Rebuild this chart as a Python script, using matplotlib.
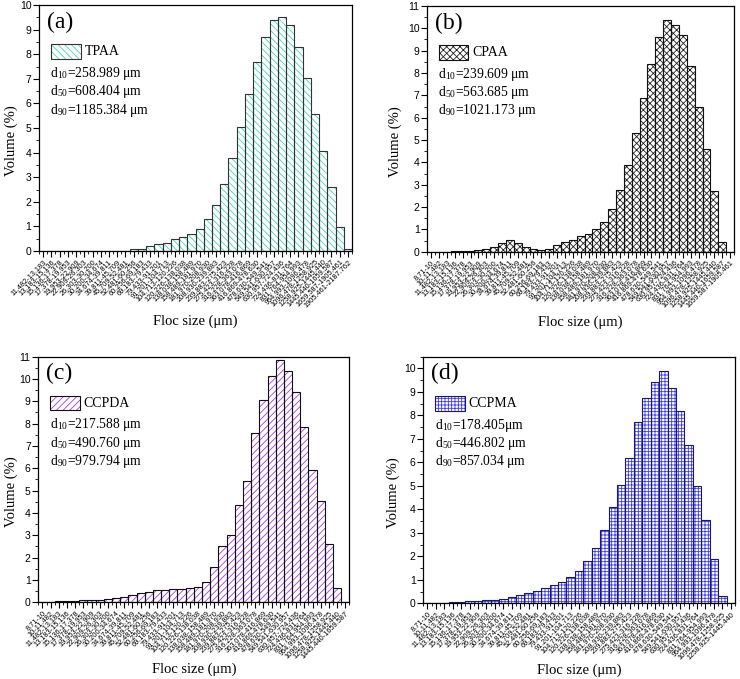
import matplotlib
matplotlib.use("Agg")
import matplotlib.pyplot as plt
from matplotlib.patches import Rectangle
from matplotlib.ticker import MultipleLocator, FixedLocator
import numpy as np

plt.rcParams['font.family'] = ['Liberation Serif', 'DejaVu Serif']
plt.rcParams['mathtext.fontset'] = 'stix'
plt.rcParams['hatch.linewidth'] = 0.6

# bin edges (um) of the size classes
edges = ["8.71", "10", "11.482", "13.183", "15.136", "17.378", "19.953", "22.909",
         "26.303", "30.200", "34.674", "39.811", "45.709", "52.481", "60.256",
         "69.183", "79.433", "91.201", "104.713", "120.226", "138.038", "158.489",
         "181.970", "208.930", "239.883", "275.423", "316.228", "363.078", "416.869",
         "478.630", "549.541", "630.957", "724.436", "831.764", "954.993", "1096.478",
         "1258.925", "1445.440", "1659.587", "1905.461", "2187.762"]

# volume (%) per class
tpaa = [0, 0, 0, 0, 0, 0, 0, 0, 0, 0, 0, 0.08, 0.10, 0.22, 0.27, 0.33, 0.47, 0.58,
        0.68, 0.89, 1.29, 1.87, 2.72, 3.78, 5.04, 6.39, 7.68, 8.70, 9.38, 9.53,
        9.17, 8.29, 7.03, 5.56, 4.06, 2.59, 0.96, 0.10]
cpaa = [0, 0, 0, 0.02, 0.03, 0.05, 0.08, 0.14, 0.22, 0.37, 0.53, 0.37, 0.22, 0.12,
        0.06, 0.13, 0.30, 0.45, 0.53, 0.70, 0.80, 1.02, 1.35, 1.92, 2.77, 3.90,
        5.33, 6.87, 8.40, 9.63, 10.37, 10.13, 9.68, 8.31, 6.50, 4.58, 2.70, 0.42, 0]
ccpda = [0, 0.03, 0.05, 0.06, 0.07, 0.08, 0.10, 0.10, 0.13, 0.18, 0.22, 0.32, 0.40,
         0.48, 0.53, 0.57, 0.58, 0.60, 0.63, 0.70, 0.90, 1.60, 2.50, 3.00, 4.35,
         5.42, 7.57, 9.05, 10.13, 10.83, 10.37, 9.40, 7.83, 5.93, 4.52, 2.60, 0.63, 0]
ccpma = [0, 0.01, 0.03, 0.04, 0.06, 0.08, 0.10, 0.12, 0.15, 0.20, 0.28, 0.37, 0.45,
         0.53, 0.65, 0.77, 0.90, 1.10, 1.38, 1.80, 2.37, 3.13, 4.10, 5.05, 6.18,
         7.70, 8.73, 9.42, 9.88, 9.17, 8.18, 6.72, 5.00, 3.53, 1.88, 0.30, 0]

# first edge index of each panel
start_edge = [2, 0, 0, 0]
names = ["TPAA", "CPAA", "CCPDA", "CCPMA"]
letters = ["(a)", "(b)", "(c)", "(d)"]
d10 = ["258.989 μm", "239.609 μm", "217.588 μm", "178.405μm"]
d50 = ["608.404 μm", "563.685 μm", "490.760 μm", "446.802 μm"]
d90 = ["1185.384 μm", "1021.173 μm", "979.794 μm", "857.034 μm"]
ymax = [10, 11, 11, 10.5]
ylab_x = [-0.066, -0.082, -0.064, -0.075]
xlab_y = [-0.26, -0.26, -0.245, -0.245]


def draw_panel(fig, rect, vals, i, hatch, hcolor, ecolor):
    ax = fig.add_axes(rect)
    n = len(vals)
    x = np.arange(n)
    s = start_edge[i]
    labels = [edges[s + k] + "-" + edges[s + k + 1] for k in range(n)]

    # hatch first, then black outline on top
    ax.bar(x, vals, width=1.0, color='white', edgecolor=hcolor, hatch=hatch, linewidth=0)
    ax.bar(x, vals, width=1.0, fill=False, edgecolor=ecolor, linewidth=0.8)

    ax.set_xlim(-0.5, n - 0.5)
    ax.set_ylim(0, ymax[i])
    ax.set_xticks(x)
    ax.set_xticklabels(labels, rotation=45, ha='right', rotation_mode='anchor',
                       fontsize=5.3, family='Liberation Sans')
    ax.xaxis.set_minor_locator(FixedLocator(np.arange(n + 1) - 0.5))
    ax.yaxis.set_major_locator(MultipleLocator(1))
    ax.yaxis.set_minor_locator(MultipleLocator(0.5))
    for lab in ax.get_yticklabels():
        lab.set_family('Liberation Sans')
        lab.set_fontsize(7.5)
    ax.tick_params(axis='both', which='major', direction='out', length=4, width=0.8, pad=1.5)
    ax.tick_params(axis='both', which='minor', direction='out', length=2.2, width=0.6)
    for sp in ax.spines.values():
        sp.set_linewidth(0.9)

    ax.set_ylabel("Volume (%)", fontsize=10.5)
    ax.set_xlabel("Floc size (μm)", fontsize=10.5, va='top')
    ax.yaxis.set_label_coords(ylab_x[i], 0.45)
    ax.xaxis.set_label_coords(0.5, xlab_y[i])

    # panel letter and legend-like block
    ax.text(0.024, 0.93, letters[i], transform=ax.transAxes, fontsize=17, va='center', ha='left')
    ax.add_patch(Rectangle((0.038, 0.781), 0.096, 0.06, transform=ax.transAxes,
                           facecolor='white', edgecolor=hcolor, hatch=hatch, linewidth=0))
    ax.add_patch(Rectangle((0.038, 0.781), 0.096, 0.06, transform=ax.transAxes,
                           fill=False, edgecolor=ecolor, linewidth=0.8))
    ax.text(0.146, 0.811, names[i], transform=ax.transAxes, fontsize=10, va='center', ha='left')
    ax.text(0.036, 0.708, r"d$_{\mathregular{10}}$=" + d10[i], transform=ax.transAxes,
            fontsize=9.8, va='baseline', ha='left')
    ax.text(0.036, 0.634, r"d$_{\mathregular{50}}$=" + d50[i], transform=ax.transAxes,
            fontsize=9.8, va='baseline', ha='left')
    ax.text(0.036, 0.559, r"d$_{\mathregular{90}}$=" + d90[i], transform=ax.transAxes,
            fontsize=9.8, va='baseline', ha='left')
    return ax


fig = plt.figure(figsize=(7.4, 6.79), dpi=100)

draw_panel(fig, [0.0527, 0.6303, 0.423, 0.3623], tpaa, 0, '\\\\\\\\\\', '#3fd8bd', '#333333')
draw_panel(fig, [0.5774, 0.6293, 0.4145, 0.3619], cpaa, 1, 'xxxxx', '#222222', '#111111')
draw_panel(fig, [0.0518, 0.1130, 0.4203, 0.3617], ccpda, 2, '/////', '#a43cf2', '#111111')
draw_panel(fig, [0.5720, 0.1115, 0.4212, 0.3632], ccpma, 3, '+++++', '#3a3af5', '#1a1a60')

plt.savefig("out.png", dpi=100)
